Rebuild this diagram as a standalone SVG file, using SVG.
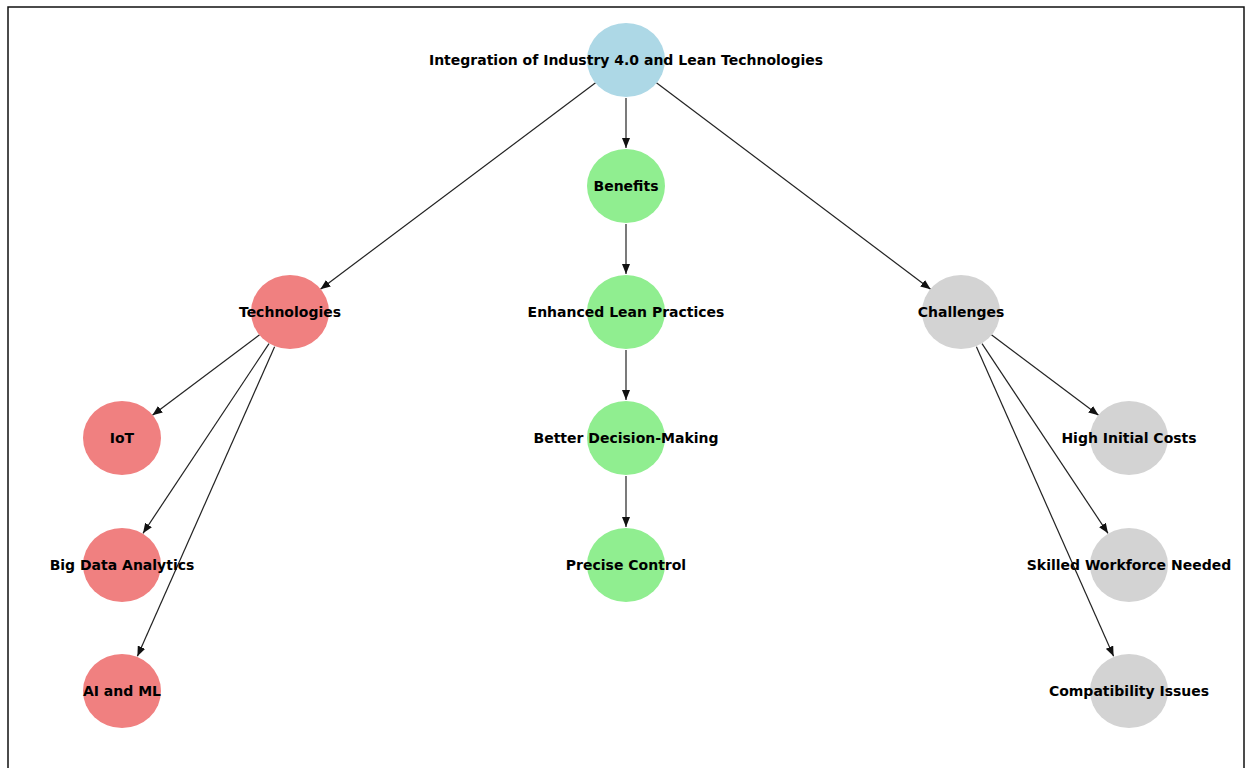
<svg xmlns="http://www.w3.org/2000/svg" width="1245" height="768" viewBox="0 0 1245 768">
<style>
.n text{font-family:"DejaVu Sans",sans-serif;font-weight:bold;font-size:14px;fill:#000;text-anchor:middle;dominant-baseline:central}
.e line{stroke:#222;stroke-width:1.2;fill:none}
.blue{fill:#ADD8E6}.green{fill:#90EE90}.red{fill:#F08080}.gray{fill:#D3D3D3}
</style>
<defs>
<marker id="ah" viewBox="0 0 10 8" refX="10" refY="4" markerWidth="10" markerHeight="8" markerUnits="userSpaceOnUse" orient="auto">
<path d="M0,0 L10,4 L0,8 Z" fill="#111"/>
</marker>
</defs>
<rect x="0" y="0" width="1245" height="768" fill="#fff"/>
<rect x="8" y="7" width="1236" height="790" fill="none" stroke="#111" stroke-width="1.5"/>
<g id="edges" class="e">
<line x1="595.6" y1="82.8" x2="320.4" y2="289.2" marker-end="url(#ah)"/>
<line x1="656.4" y1="82.8" x2="930.6" y2="289.2" marker-end="url(#ah)"/>
<line x1="626" y1="98" x2="626" y2="148" marker-end="url(#ah)"/>
<line x1="626" y1="224" x2="626" y2="274" marker-end="url(#ah)"/>
<line x1="626" y1="350" x2="626" y2="400" marker-end="url(#ah)"/>
<line x1="626" y1="476" x2="626" y2="527" marker-end="url(#ah)"/>
<line x1="259.6" y1="334.8" x2="152.4" y2="415.2" marker-end="url(#ah)"/>
<line x1="269" y1="343.7" x2="143" y2="533.3" marker-end="url(#ah)"/>
<line x1="274.6" y1="346.7" x2="137.4" y2="656.3" marker-end="url(#ah)"/>
<line x1="991.4" y1="334.8" x2="1098.6" y2="415.2" marker-end="url(#ah)"/>
<line x1="982" y1="343.7" x2="1108" y2="533.3" marker-end="url(#ah)"/>
<line x1="976.4" y1="346.7" x2="1113.6" y2="656.3" marker-end="url(#ah)"/>
</g>
<g id="root" class="n"><ellipse class="blue" cx="626" cy="60" rx="39" ry="37"/><text x="626" y="60">Integration of Industry 4.0 and Lean Technologies</text></g>
<g id="benefits" class="n"><ellipse class="green" cx="626" cy="186" rx="39" ry="37"/><text x="626" y="186">Benefits</text></g>
<g id="enhanced" class="n"><ellipse class="green" cx="626" cy="312" rx="39" ry="37"/><text x="626" y="312">Enhanced Lean Practices</text></g>
<g id="better" class="n"><ellipse class="green" cx="626" cy="438" rx="39" ry="37"/><text x="626" y="438">Better Decision-Making</text></g>
<g id="precise" class="n"><ellipse class="green" cx="626" cy="565" rx="39" ry="37"/><text x="626" y="565">Precise Control</text></g>
<g id="technologies" class="n"><ellipse class="red" cx="290" cy="312" rx="39" ry="37"/><text x="290" y="312">Technologies</text></g>
<g id="iot" class="n"><ellipse class="red" cx="122" cy="438" rx="39" ry="37"/><text x="122" y="438">IoT</text></g>
<g id="bigdata" class="n"><ellipse class="red" cx="122" cy="565" rx="39" ry="37"/><text x="122" y="565">Big Data Analytics</text></g>
<g id="aiml" class="n"><ellipse class="red" cx="122" cy="691" rx="39" ry="37"/><text x="122" y="691">AI and ML</text></g>
<g id="challenges" class="n"><ellipse class="gray" cx="961" cy="312" rx="39" ry="37"/><text x="961" y="312">Challenges</text></g>
<g id="highcosts" class="n"><ellipse class="gray" cx="1129" cy="438" rx="39" ry="37"/><text x="1129" y="438">High Initial Costs</text></g>
<g id="skilled" class="n"><ellipse class="gray" cx="1129" cy="565" rx="39" ry="37"/><text x="1129" y="565">Skilled Workforce Needed</text></g>
<g id="compat" class="n"><ellipse class="gray" cx="1129" cy="691" rx="39" ry="37"/><text x="1129" y="691">Compatibility Issues</text></g>
</svg>
